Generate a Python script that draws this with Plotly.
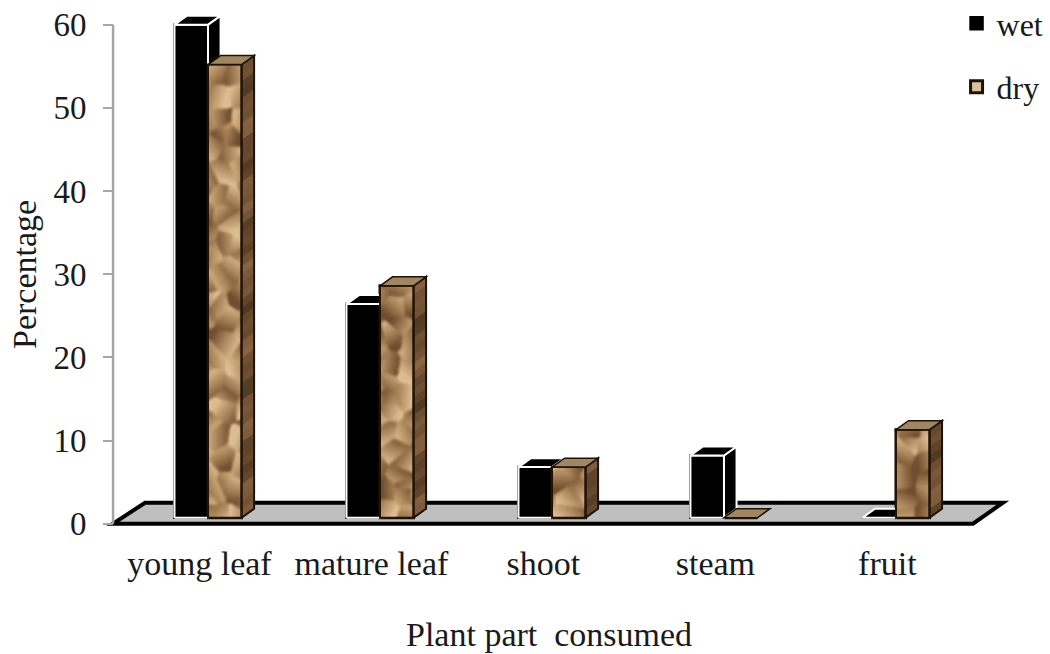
import base64, struct, zlib
import numpy as np
import plotly.graph_objects as go

categories = ["young leaf", "mature leaf", "shoot", "steam", "fruit"]
wet = [60, 26.4, 6.8, 8.2, 0]
dry = [55.2, 28.6, 6.8, 0, 11.3]
y_ticks = [0, 10, 20, 30, 40, 50, 60]

BAR_W = 0.195
BASE = 0.72
DX = 0.073
DY = 1.08
FONT = "Liberation Serif"
INK = "#1a1a1a"
FS = 34


def png_uri(rgb):
    h, w, _ = rgb.shape
    raw = b"".join(b"\x00" + rgb[r].tobytes() for r in range(h))
    def chunk(t, d):
        return struct.pack(">I", len(d)) + t + d + struct.pack(">I", zlib.crc32(t + d) & 0xffffffff)
    data = b"\x89PNG\r\n\x1a\n" + chunk(b"IHDR", struct.pack(">IIBBBBB", w, h, 8, 2, 0, 0, 0)) \
        + chunk(b"IDAT", zlib.compress(raw)) + chunk(b"IEND", b"")
    return "data:image/png;base64," + base64.b64encode(data).decode()


DARK = np.array([112, 78, 46.0])
MID = np.array([172, 134, 92.0])
LIGHT = np.array([220, 188, 144.0])
CELL = 20.0


def frac_hash(a, b, k):
    v = np.sin(a * 12.9898 + b * 78.233 + k * 37.719) * 43758.5453
    return v - np.floor(v)


def crumple(wpx, hpx, seed):
    """Faceted paper look: each cell is a flat facet with its own slope."""
    pad = 8
    yy, xx = np.mgrid[-pad:hpx + pad, -pad:wpx + pad].astype(float)
    gx = np.floor(xx / CELL)
    gy = np.floor(yy / CELL)
    best = np.full(xx.shape, 1e12)
    f = np.zeros_like(xx)
    for ox in (-1, 0, 1):
        for oy in (-1, 0, 1):
            ax, ay = gx + ox + seed * 7, gy + oy
            px = (gx + ox + frac_hash(ax, ay, 1)) * CELL
            py = (gy + oy + frac_hash(ax, ay, 2)) * CELL
            d = (xx - px) ** 2 + (yy - py) ** 2
            ang = frac_hash(ax, ay, 3) * 6.283
            val = 0.5 + 0.26 * (frac_hash(ax, ay, 4) - 0.5) * 2 \
                + ((xx - px) * np.cos(ang) + (yy - py) * np.sin(ang)) / (CELL * 1.4)
            mask = d < best
            best[mask] = d[mask]
            f[mask] = val[mask]
    for _ in range(5):
        f = (f + np.roll(f, 1, 0) + np.roll(f, -1, 0) + np.roll(f, 1, 1) + np.roll(f, -1, 1)) / 5
    f = f[pad:-pad, pad:-pad].clip(0, 1)[..., None]
    rgb = np.where(f < 0.5, DARK + (MID - DARK) * f * 2, MID + (LIGHT - MID) * (f - 0.5) * 2)
    return rgb.clip(0, 255).astype(np.uint8)


def shade(v):
    return 0.5 + 0.5 * (np.sin(v * 0.7) * 0.6 + np.sin(v * 1.9 + 1) * 0.4)


xs = list(range(len(categories)))
fig = go.Figure()

fx = [-0.552, -0.366, 4.622, 4.448]
fy = [0, 2.52, 2.52, 0]
shapes = [dict(type="path", layer="below", xref="x", yref="y", fillcolor="#bfbfbf",
               line=dict(color="#000000", width=4),
               path="M" + " L".join(f"{a},{b}" for a, b in zip(fx, fy)) + " Z"),
          dict(type="line", layer="below", xref="x", yref="y", x0=fx[0], x1=fx[0], y0=0, y1=60,
               line=dict(color="#a6a6a6", width=2.5))]

fig.add_trace(go.Bar(x=xs, y=[max(v - BASE, 0) for v in wet], base=BASE, name="wet", legendgroup="wet",
                     marker=dict(color="#000000", line=dict(color="#000000", width=2.5))))
fig.add_trace(go.Bar(x=xs, y=[max(v - BASE, 0) for v in dry], base=BASE, name="dry", legendgroup="dry",
                     marker=dict(color="#dcc29a", line=dict(color="#1f1208", width=3))))

images = []
for i, c in enumerate(xs):
    t = max(wet[i], BASE)
    l, r = c - BAR_W, c
    if wet[i] > BASE:
        fig.add_trace(go.Scatter(x=[r, r + DX, r + DX, r, r], y=[BASE, BASE + DY, t + DY, t, BASE],
                                 mode="lines", fill="toself", fillcolor="#000000",
                                 line=dict(color="#ffffff", width=2), showlegend=False, hoverinfo="skip"))
        fig.add_trace(go.Scatter(x=[l, r, r, l, l], y=[BASE, BASE, t, t, BASE], mode="lines",
                                 line=dict(color="#ffffff", width=2), showlegend=False, hoverinfo="skip"))
    fig.add_trace(go.Scatter(x=[l, l + DX, r + DX, r, l], y=[t, t + DY, t + DY, t, t],
                             mode="lines", fill="toself", fillcolor="#000000",
                             line=dict(color="#ffffff", width=2), showlegend=False, hoverinfo="skip"))

    t = max(dry[i], BASE)
    l, r = c, c + BAR_W
    if dry[i] > BASE:
        hpx = int((t - BASE) * 8.32)
        images.append(dict(source=png_uri(crumple(34, hpx, 0.37 * i + 0.2)), xref="x", yref="y",
                           x=l, y=t, sizex=BAR_W, sizey=t - BASE, sizing="stretch",
                           xanchor="left", yanchor="top", layer="above"))
        n = max(int((t - BASE) / 1.0), 1)
        step = (t - BASE) / n
        for k in range(n):
            y0 = BASE + k * step
            y1 = min(y0 + step * 1.6, t)
            s = shade(y0 + i * 2)
            col = "rgb(%d,%d,%d)" % (78 + 62 * s, 56 + 46 * s, 34 + 32 * s)
            shapes.append(dict(type="path", layer="above", xref="x", yref="y", line=dict(width=0), fillcolor=col,
                               path=f"M{r},{y0} L{r + DX},{y0 + DY} L{r + DX},{y1 + DY} L{r},{y1} Z"))
        shapes.append(dict(type="path", layer="above", xref="x", yref="y", line=dict(color="#1f1208", width=2),
                           fillcolor="rgba(0,0,0,0)",
                           path=f"M{l},{BASE} L{r},{BASE} L{r + DX},{BASE + DY} L{r + DX},{t + DY} L{r},{t} L{l},{t} Z"))
        shapes.append(dict(type="path", layer="above", xref="x", yref="y", line=dict(color="#1f1208", width=2.5),
                           fillcolor="rgba(0,0,0,0)", path=f"M{r},{BASE} L{r},{t}"))
    shapes.append(dict(type="path", layer="above", xref="x", yref="y", line=dict(color="#1f1208", width=1.5),
                       fillcolor="#a08762",
                       path=f"M{l},{t} L{l + DX},{t + DY} L{r + DX},{t + DY} L{r},{t} Z"))

fig.update_layout(
    width=1050, height=654, paper_bgcolor="#ffffff", plot_bgcolor="#ffffff",
    margin=dict(l=100, r=40, t=8, b=122, autoexpand=False),
    barmode="group", bargap=0.61, bargroupgap=0,
    font=dict(family=FONT, size=FS, color=INK),
    shapes=shapes, images=images,
    legend=dict(x=0.911, y=1.023, xref="container", yref="paper", xanchor="left", yanchor="top",
                traceorder="grouped", tracegroupgap=19, itemwidth=30, bgcolor="rgba(0,0,0,0)",
                font=dict(family=FONT, size=32, color=INK)),
    xaxis=dict(range=[-0.628, 4.663], showgrid=False, zeroline=False, showline=False,
               tickmode="array", tickvals=[v - 0.05 for v in xs], ticktext=categories,
               ticks="outside", ticklen=1, tickcolor="rgba(0,0,0,0)", tickfont=dict(size=FS)),
    yaxis=dict(range=[-1, 62], showgrid=False, zeroline=False, showline=False,
               anchor="free", position=13 / 910,
               tickmode="array", tickvals=y_ticks, ticks="outside", ticklen=10, tickwidth=2, tickcolor="#a6a6a6",
               ticklabelstandoff=10, tickfont=dict(size=33)),
    annotations=[
        dict(text="Plant part  consumed", xref="paper", yref="paper", x=(549 - 100) / 910, y=1 - (634 - 8) / 524,
             xanchor="center", yanchor="middle", showarrow=False, font=dict(family=FONT, size=FS, color=INK)),
        dict(text="Percentage", xref="paper", yref="paper", x=(24 - 100) / 910, y=1 - (275 - 8) / 524,
             xanchor="center", yanchor="middle", showarrow=False, textangle=-90,
             font=dict(family=FONT, size=FS, color=INK)),
    ],
)
fig.write_html("out.html", post_script="document.body.style.margin='0';", config={"displayModeBar": False})
